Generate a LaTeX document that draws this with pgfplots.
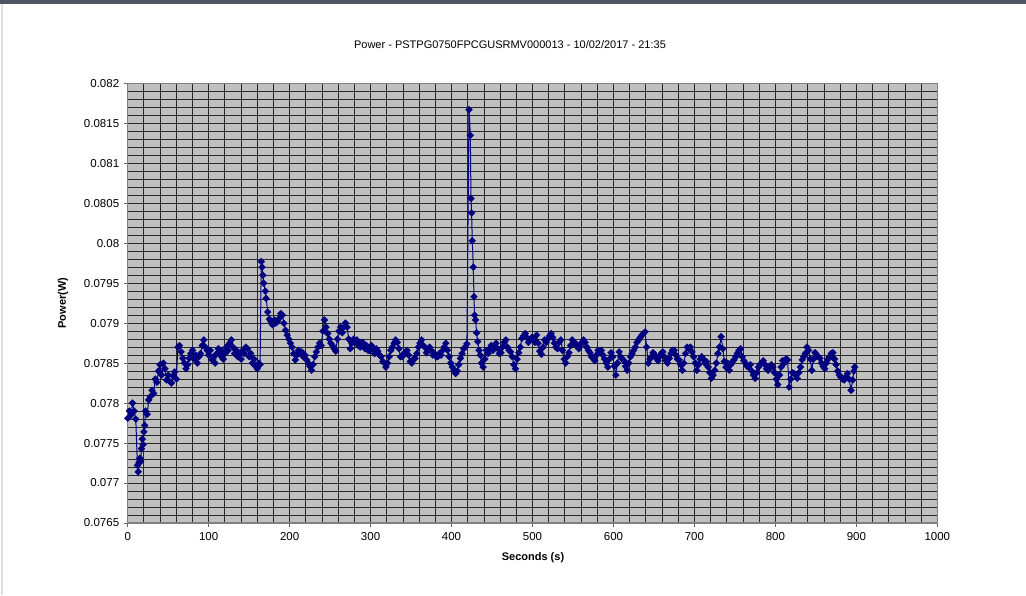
\documentclass[border=0pt]{standalone}
\usepackage{pgfplots}
\pgfplotsset{compat=1.18}
\usepackage{fontspec}
\setmainfont{Liberation Sans}
\definecolor{navy}{HTML}{000080}
\definecolor{plotbg}{HTML}{C0C0C0}
\definecolor{topbar}{HTML}{4F5663}
\begin{document}
\begin{tikzpicture}
\fill[white] (0pt,0pt) rectangle (1026pt,595pt);
\fill[topbar] (0pt,591pt) rectangle (1026pt,595pt);
\fill[black!12] (1pt,0pt) rectangle (3pt,591pt);
\node[font=\fontsize{11}{13}\selectfont] at (510pt,550pt) {Power - PSTPG0750FPCGUSRMV000013 - 10/02/2017 - 21:35};
\node[font=\fontsize{11}{13}\selectfont\bfseries, rotate=90] at (63pt,292pt) {Power(W)};
\node[font=\fontsize{11}{13}\selectfont\bfseries] at (533pt,37pt) {Seconds (s)};
\begin{axis}[
  at={(127.7pt,72pt)}, anchor=south west,
  scale only axis, width=809.6pt, height=439.7pt,
  xmin=0, xmax=1000, ymin=0.0765, ymax=0.082,
  axis background/.style={fill=plotbg},
  axis line style={draw=black!50, line width=1.2pt},
  xtick={0,100,...,1000},
  xticklabels={0,100,200,300,400,500,600,700,800,900,1000},
  ytick={0.0765,0.077,0.0775,0.078,0.0785,0.079,0.0795,0.08,0.0805,0.081,0.0815,0.082},
  yticklabels={0.0765,0.077,0.0775,0.078,0.0785,0.079,0.0795,0.08,0.0805,0.081,0.0815,0.082},
  scaled y ticks=false, scaled x ticks=false,
  minor x tick num=4, minor y tick num=4,
  grid=both,
  major grid style={draw=black!85, line width=0.8pt},
  minor grid style={draw=black!85, line width=0.8pt},
  tick align=outside, xtick pos=bottom, ytick pos=left,
  major tick length=4pt, minor tick length=0pt,
  tick style={draw=black!60, line width=0.8pt},
  ticklabel style={font=\fontsize{11.5}{13}\selectfont},
  xticklabel style={yshift=-2pt},
  yticklabel style={xshift=-1pt},
]
\addplot[color=navy, line width=1pt, mark=square*, mark size=2.4pt, mark options={fill=navy, draw=navy, line width=0.4pt, rotate=45}] table {
x y
0 0.07781
2 0.07790
4 0.07785
6 0.07800
8 0.07790
10 0.07780
12 0.07722
13 0.07714
14 0.07726
15 0.07731
16 0.07727
17 0.07743
18 0.07755
19 0.07748
20 0.07764
21 0.07772
22 0.07790
24 0.07786
26 0.07804
28 0.07808
30 0.07816
32 0.07812
34 0.07830
36 0.07826
38 0.07840
40 0.07848
42 0.07835
44 0.07850
46 0.07843
48 0.07829
50 0.07835
52 0.07827
54 0.07825
56 0.07834
58 0.07839
60 0.07830
62 0.07870
64 0.07872
66 0.07864
68 0.07856
70 0.07850
72 0.07843
74 0.07848
76 0.07856
78 0.07862
80 0.07866
82 0.07855
84 0.07860
86 0.07850
88 0.07858
90 0.07862
92 0.07872
94 0.07879
96 0.07870
98 0.07866
100 0.07860
102 0.07866
104 0.07854
106 0.07858
108 0.07850
110 0.07862
112 0.07868
114 0.07860
116 0.07866
118 0.07855
120 0.07862
122 0.07870
124 0.07866
126 0.07875
128 0.07879
130 0.07870
132 0.07862
134 0.07866
136 0.07858
138 0.07862
140 0.07855
142 0.07866
144 0.07862
146 0.07870
148 0.07868
150 0.07858
152 0.07862
154 0.07850
156 0.07855
158 0.07846
160 0.07843
162 0.07850
163.5 0.07848
165 0.07977
166 0.07970
167 0.07960
168 0.07950
170 0.07940
171 0.07931
173 0.07914
175 0.07905
177 0.07902
179 0.07898
181 0.07904
183 0.07900
185 0.07902
187 0.07906
189 0.07912
191 0.07910
193 0.07900
195 0.07891
197 0.07885
199 0.07880
201 0.07875
203 0.07870
205 0.07862
207 0.07854
209 0.07860
211 0.07866
213 0.07862
215 0.07864
217 0.07858
219 0.07860
221 0.07854
223 0.07850
225 0.07846
227 0.07841
229 0.07848
231 0.07858
233 0.07864
235 0.07870
237 0.07875
239 0.07872
241 0.07890
243 0.07904
245 0.07895
247 0.07887
249 0.07880
251 0.07875
253 0.07872
255 0.07868
257 0.07865
259 0.07880
261 0.07890
263 0.07895
265 0.07888
267 0.07895
269 0.07900
271 0.07895
273 0.07880
275 0.07868
277 0.07875
279 0.07880
281 0.07876
283 0.07879
285 0.07872
287 0.07870
289 0.07876
291 0.07875
293 0.07868
295 0.07872
297 0.07866
299 0.07866
301 0.07872
303 0.07868
305 0.07862
307 0.07868
309 0.07865
311 0.07860
313 0.07858
315 0.07852
317 0.07850
319 0.07845
321 0.07850
323 0.07858
325 0.07866
327 0.07870
329 0.07875
331 0.07879
333 0.07876
335 0.07868
337 0.07858
339 0.07858
341 0.07862
343 0.07864
345 0.07866
347 0.07860
349 0.07852
351 0.07850
353 0.07855
355 0.07856
357 0.07862
359 0.07870
361 0.07875
363 0.07879
365 0.07872
367 0.07870
369 0.07863
371 0.07866
373 0.07870
375 0.07866
377 0.07860
379 0.07862
381 0.07858
383 0.07858
385 0.07862
387 0.07860
389 0.07866
391 0.07870
393 0.07875
395 0.07866
397 0.07858
399 0.07850
401 0.07845
403 0.07841
405 0.07837
407 0.07840
409 0.07848
411 0.07856
413 0.07862
415 0.07868
417 0.07870
419 0.07874
421.6 0.08167
423.2 0.08135
424 0.08056
424.8 0.08038
425.6 0.08003
426.9 0.07970
427.7 0.07933
428.5 0.07910
429.7 0.07904
431 0.07888
432.3 0.07877
434 0.07866
435.5 0.07860
437 0.07850
439 0.07845
441 0.07855
443 0.07866
445 0.07862
447 0.07868
449 0.07872
451 0.07866
453 0.07870
455 0.07875
457 0.07868
459 0.07862
461 0.07863
463 0.07870
465 0.07876
467 0.07879
469 0.07870
471 0.07866
473 0.07864
475 0.07858
477 0.07848
479 0.07843
481 0.07855
483 0.07863
485 0.07870
487 0.07881
489 0.07884
491 0.07887
493 0.07882
495 0.07876
497 0.07879
499 0.07882
501 0.07880
503 0.07876
505 0.07885
507 0.07875
509 0.07865
511 0.07861
513 0.07870
515 0.07879
517 0.07876
519 0.07880
521 0.07884
523 0.07887
525 0.07882
527 0.07875
529 0.07870
531 0.07868
533 0.07876
535 0.07879
537 0.07866
539 0.07855
541 0.07850
543 0.07858
545 0.07863
547 0.07872
549 0.07879
551 0.07875
553 0.07875
555 0.07872
557 0.07868
559 0.07872
561 0.07876
563 0.07879
565 0.07876
567 0.07870
569 0.07866
571 0.07863
573 0.07858
575 0.07856
577 0.07853
579 0.07860
581 0.07866
583 0.07864
585 0.07866
587 0.07860
589 0.07855
591 0.07850
593 0.07845
595 0.07855
597 0.07863
599 0.07858
601 0.07846
603 0.07835
605 0.07850
607 0.07864
609 0.07858
611 0.07855
613 0.07853
615 0.07846
617 0.07841
619 0.07850
621 0.07858
623 0.07862
625 0.07866
627 0.07870
629 0.07876
631 0.07879
633 0.07882
635 0.07885
637 0.07887
639 0.07889
641 0.07870
643 0.07850
645 0.07855
647 0.07858
649 0.07863
651 0.07860
653 0.07856
655 0.07853
657 0.07858
659 0.07862
661 0.07864
663 0.07858
665 0.07853
667 0.07850
669 0.07856
671 0.07862
673 0.07866
675 0.07866
677 0.07860
679 0.07855
681 0.07854
683 0.07848
685 0.07841
687 0.07850
689 0.07862
691 0.07870
693 0.07868
695 0.07870
697 0.07864
699 0.07858
701 0.07850
703 0.07841
705 0.07848
707 0.07855
709 0.07858
711 0.07855
713 0.07850
715 0.07852
717 0.07845
719 0.07838
721 0.07831
723 0.07835
725 0.07841
727 0.07850
729 0.07862
731 0.07870
733 0.07883
735 0.07868
737 0.07852
739 0.07845
741 0.07850
743 0.07841
745 0.07848
747 0.07852
749 0.07854
751 0.07858
753 0.07862
755 0.07866
757 0.07868
759 0.07858
761 0.07853
763 0.07850
765 0.07846
767 0.07845
769 0.07848
771 0.07840
773 0.07835
775 0.07831
777 0.07838
779 0.07845
781 0.07848
783 0.07850
785 0.07853
787 0.07848
789 0.07843
791 0.07841
793 0.07845
795 0.07848
797 0.07845
799 0.07838
801 0.07830
803 0.07823
805 0.07835
807 0.07845
809 0.07853
811 0.07850
813 0.07855
815 0.07854
817 0.07820
819 0.07830
821 0.07838
823 0.07837
825 0.07835
827 0.07831
829 0.07838
831 0.07845
833 0.07854
835 0.07858
837 0.07862
839 0.07870
841 0.07866
843 0.07855
845 0.07841
847 0.07855
849 0.07863
851 0.07860
853 0.07858
855 0.07856
857 0.07850
859 0.07846
861 0.07843
863 0.07850
865 0.07855
867 0.07858
869 0.07862
871 0.07863
873 0.07855
875 0.07848
877 0.07840
879 0.07835
881 0.07832
883 0.07830
885 0.07829
887 0.07833
889 0.07837
891 0.07830
893.5 0.07816
895.5 0.07829
897 0.07840
898 0.07845
};
\end{axis}
\end{tikzpicture}
\end{document}
